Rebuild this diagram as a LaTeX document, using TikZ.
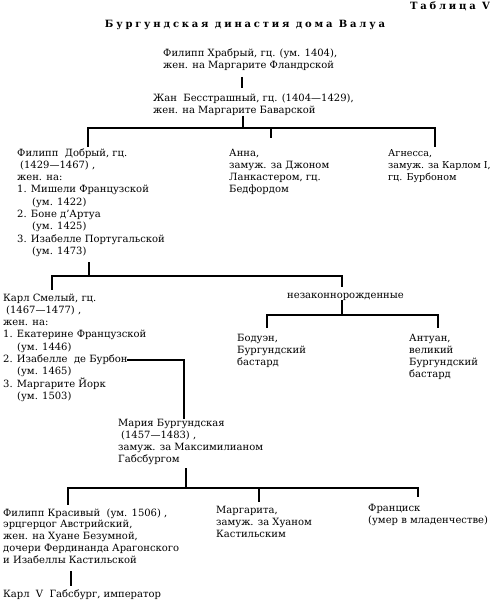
\documentclass[tikz,border=0pt]{standalone}
\usepackage{fontspec}
\setmainfont{DejaVu Serif}
\usetikzlibrary{calc}
\begin{document}
\begin{tikzpicture}[x=1pt,y=-1pt,
  person/.style={anchor=base west,align=left,inner sep=0pt,font=\fontsize{10}{12.3}\selectfont},
  heading/.style={inner sep=0pt,font=\bfseries\fontsize{10}{12}\selectfont\addfontfeature{LetterSpace=28}},
  link/.style={line width=1.8pt,line join=miter}]
\useasboundingbox (0,0) rectangle (493,600);
\fill[white] (0,0) rectangle (493,600);
\node[heading,anchor=base east] (tab) at (490,9) {Таблица V};
\node[heading,anchor=base] (title) at (245,27) {Бургундская династия дома Валуа};

% base anchor = baseline of the last line
\node[person] (p1) at (163,68.3) {Филипп Храбрый, гц. (ум. 1404),\\жен. на Маргарите Фландрской};
\node[person] (jean) at (153,113.3) {Жан\ \ Бесстрашный, гц. (1404—1429),\\жен. на Маргарите Баварской};
\node[person] (pg) at (17,254.4) {Филипп\ \ Добрый, гц.\\\hspace*{3pt}(1429—1467) ,\\жен. на:\\1. Мишели Французской\\\hspace*{15pt}(ум. 1422)\\2. Боне д'Артуа\\\hspace*{15pt}(ум. 1425)\\3. Изабелле Португальской\\\hspace*{15pt}(ум. 1473)};
\node[person] (anna) at (229,192.9) {Анна,\\замуж. за Джоном\\Ланкастером, гц.\\Бедфордом};
\node[person,font=\fontsize{9.6}{12.3}\selectfont] (agn) at (388,180.6) {Агнесса,\\замуж. за Карлом I,\\гц. Бурбоном};
\node[person] (karl) at (3,399.4) {Карл Смелый, гц.\\\hspace*{3pt}(1467—1477) ,\\жен. на:\\1. Екатерине Французской\\\hspace*{14pt}(ум. 1446)\\2. Изабелле\ \ де Бурбон\\\hspace*{14pt}(ум. 1465)\\3. Маргарите Йорк\\\hspace*{14pt}(ум. 1503)};
\node[person] (nez) at (287,298) {незаконнорожденные};
\node[person] (bod) at (237,365.6) {Бодуэн,\\Бургундский\\бастард};
\node[person] (ant) at (409,377.9) {Антуан,\\великий\\Бургундский\\бастард};
\node[person] (maria) at (118,462.9) {Мария Бургундская\\\hspace*{3pt}(1457—1483) ,\\замуж. за Максимилианом\\Габсбургом};
\node[person,font=\fontsize{10}{11.8}\selectfont] (ph) at (3,563.2) {Филипп Красивый\ \ (ум. 1506) ,\\эрцгерцог Австрийский,\\жен. на Хуане Безумной,\\дочери Фердинанда Арагонского\\и Изабеллы Кастильской};
\node[person] (marg) at (216,537.6) {Маргарита,\\замуж. за Хуаном\\Кастильским};
\node[person] (fr) at (368,523.3) {Франциск\\(умер в младенчестве)};
\node[person] (k5) at (3,597) {Карл\ \ V\ \ Габсбург, император};

% column and bus coordinates
\coordinate (x1) at (242,0);
\coordinate (bus1) at (243,128);
\coordinate (xpg) at (88,0);
\coordinate (xan) at (271,0);
\coordinate (xag) at (435,0);
\coordinate (bus2) at (89,276);
\coordinate (xk) at (52,0);
\coordinate (xn) at (342,0);
\coordinate (bus3) at (342,315);
\coordinate (xb) at (267,0);
\coordinate (xa) at (438,0);
\coordinate (isab) at (127,360);
\coordinate (xm) at (184,0);
\coordinate (bus4) at (186,488);
\coordinate (xph) at (68,0);
\coordinate (xmg) at (259,0);
\coordinate (xfr) at (418,0);
\coordinate (xk5) at (71,0);

\draw[link,shorten <=6.4pt,shorten >=5.4pt] (p1.south -| x1) -- (jean.north -| x1);
\draw[link] (jean.south -| bus1) -- (bus1);
\draw[link,shorten <=1.5pt,shorten >=1.5pt] (pg.north -| xpg) -- (bus1 -| xpg) -- (bus1 -| xag) -- (agn.north -| xag);
\draw[link,shorten >=10.7pt] (bus1 -| xan) -- (anna.north -| xan);

\draw[link,shorten <=5.3pt] (pg.south -| bus2) -- (bus2);
\draw[link,shorten <=3.5pt,shorten >=5.8pt] (karl.north -| xk) -- (bus2 -| xk) -- (bus2 -| xn) -- (nez.north -| xn);

\draw[link] (nez.south -| bus3) -- (bus3);
\draw[link,shorten <=5.7pt,shorten >=5.7pt] (bod.north -| xb) -- (bus3 -| xb) -- (bus3 -| xa) -- (ant.north -| xa);

\draw[link] (isab) -| (maria.north -| xm);

\draw[link,shorten <=2.8pt] (maria.south -| bus4) -- (bus4);
\draw[link,shorten <=3.4pt,shorten >=6.7pt] (ph.north -| xph) -- (bus4 -| xph) -- (bus4 -| xfr) -- (fr.north -| xfr);
\draw[link,shorten >=3.7pt] (bus4 -| xmg) -- (marg.north -| xmg);

\draw[link,shorten <=7.5pt,shorten >=2.7pt] (ph.south -| xk5) -- (k5.north -| xk5);
\end{tikzpicture}
\end{document}
